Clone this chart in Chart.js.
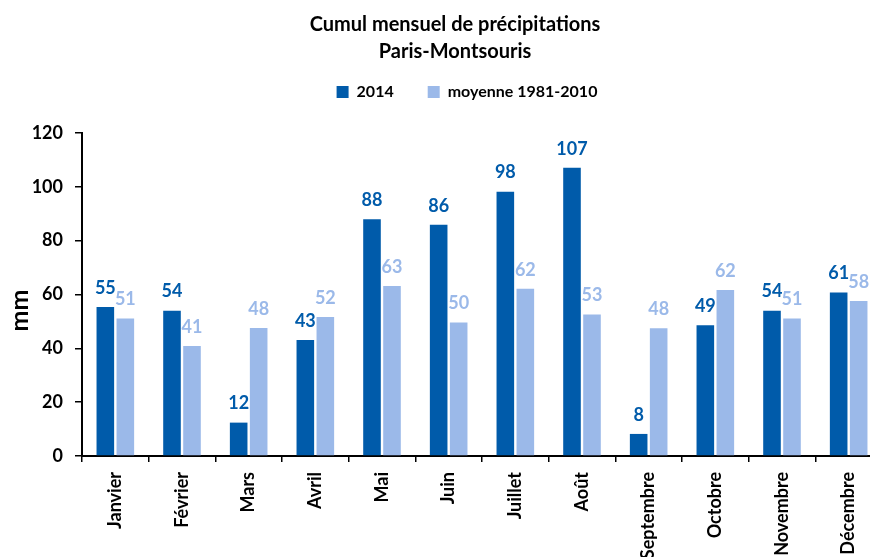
<!DOCTYPE html>
<html>
<head>
  <meta charset="utf-8">
  <script src="https://cdn.jsdelivr.net/npm/chart.js@4/dist/chart.umd.min.js"></script>
  <style>
    html, body { margin: 0; padding: 0; overflow: hidden; background: #fff; }
  </style>
</head>
<body>

<canvas id="rainChart" width="925" height="600" style="width:925px;height:600px"></canvas>

<script>
var months = ["Janvier", "Février", "Mars", "Avril", "Mai", "Juin", "Juillet", "Août", "Septembre", "Octobre", "Novembre", "Décembre"];
var rain2014 = [55.4, 54.0, 12.4, 43.1, 88.0, 85.9, 98.2, 107.1, 8.2, 48.6, 54.0, 60.7];
var rainNormal = [51.1, 40.9, 47.6, 51.6, 63.2, 49.6, 62.1, 52.6, 47.5, 61.7, 51.1, 57.6];
var yTicks = [0, 20, 40, 60, 80, 100, 120];

var darkBlue = "#005baa";
var lightBlue = "#9bb9e9";
var fontFamily = "Lato, 'Open Sans', sans-serif";

// draws the rounded value above each bar
var valueLabels = {
  id: "valueLabels",
  afterDatasetsDraw: function(chart) {
    var ctx = chart.ctx;
    ctx.save();
    ctx.font = "bold 18px " + fontFamily;
    ctx.textAlign = "center";
    ctx.textBaseline = "bottom";
    chart.data.datasets.forEach(function(ds, i) {
      var meta = chart.getDatasetMeta(i);
      ctx.fillStyle = ds.backgroundColor;
      meta.data.forEach(function(bar, j) {
        ctx.fillText(Math.round(ds.data[j]), bar.x, bar.y - 10);
      });
    });
    ctx.restore();
  }
};

// y axis title, sitting a little below the middle like the original
var unitTitle = {
  id: "unitTitle",
  afterDraw: function(chart) {
    var ctx = chart.ctx;
    var area = chart.chartArea;
    ctx.save();
    ctx.translate(20, (area.top + area.bottom) / 2 + 16);
    ctx.rotate(-Math.PI / 2);
    ctx.font = "bold 25px " + fontFamily;
    ctx.fillStyle = "#000";
    ctx.textAlign = "center";
    ctx.textBaseline = "middle";
    ctx.fillText("mm", 0, 0);
    ctx.restore();
  }
};

// nudge title and legend into place
var headerShift = {
  id: "headerShift",
  afterInit: function(chart) {
    var title = chart.titleBlock, legend = chart.legend;
    var tDraw = title.draw;
    title.draw = function() {
      chart.ctx.save();
      chart.ctx.translate(14, 0);
      tDraw.apply(this, arguments);
      chart.ctx.restore();
    };
    var lDraw = legend.draw;
    legend.draw = function() {
      chart.ctx.save();
      chart.ctx.translate(26, -19);
      lDraw.apply(this, arguments);
      chart.ctx.restore();
    };
    var lFit = legend.fit;
    legend.fit = function() {
      lFit.apply(this, arguments);
      this.height += 4;
    };
  }
};

var ctx = document.getElementById("rainChart").getContext("2d");
var rainChart = new Chart(ctx, {
  type: "bar",
  data: {
    labels: months,
    datasets: [{
      label: "2014",
      data: rain2014,
      backgroundColor: darkBlue,
      categoryPercentage: 0.6,
      barPercentage: 0.88
    }, {
      label: "moyenne 1981-2010",
      data: rainNormal,
      backgroundColor: lightBlue,
      categoryPercentage: 0.6,
      barPercentage: 0.88
    }]
  },
  options: {
    responsive: false,
    animation: false,
    layout: { padding: { left: 0, right: 43, top: 11, bottom: 0 } },
    plugins: {
      title: {
        display: true,
        text: ["Cumul mensuel de précipitations", "Paris-Montsouris"],
        color: "#000",
        font: { family: fontFamily, size: 20, weight: "bold", lineHeight: 1.35 },
        padding: { top: 0, bottom: 4 }
      },
      legend: {
        display: true,
        labels: {
          color: "#000",
          font: { family: fontFamily, size: 16, weight: "bold" },
          boxWidth: 12,
          boxHeight: 12,
          padding: 34
        }
      },
      tooltip: { enabled: false }
    },
    scales: {
      x: {
        grid: { offset: true, drawOnChartArea: false, tickLength: 6, color: "#000", lineWidth: 1.5 },
        border: { color: "#000", width: 2 },
        ticks: {
          color: "#000",
          font: { family: fontFamily, size: 18, weight: "bold" },
          minRotation: 90,
          maxRotation: 90,
          padding: 10
        },
        afterFit: function(scale) { scale.height = 144; }
      },
      y: {
        min: 0,
        max: 120,
        afterBuildTicks: function(scale) {
          scale.ticks = yTicks.map(function(v) { return { value: v }; });
        },
        grid: { drawOnChartArea: false, tickLength: 7, color: "#000", lineWidth: 1.5 },
        border: { color: "#000", width: 2 },
        ticks: {
          color: "#000",
          font: { family: fontFamily, size: 18, weight: "bold" },
          padding: 12
        },
        title: { display: false },
        afterFit: function(scale) { scale.width = 82; }
      }
    }
  },
  plugins: [valueLabels, unitTitle, headerShift]
});
</script>

</body>
</html>
